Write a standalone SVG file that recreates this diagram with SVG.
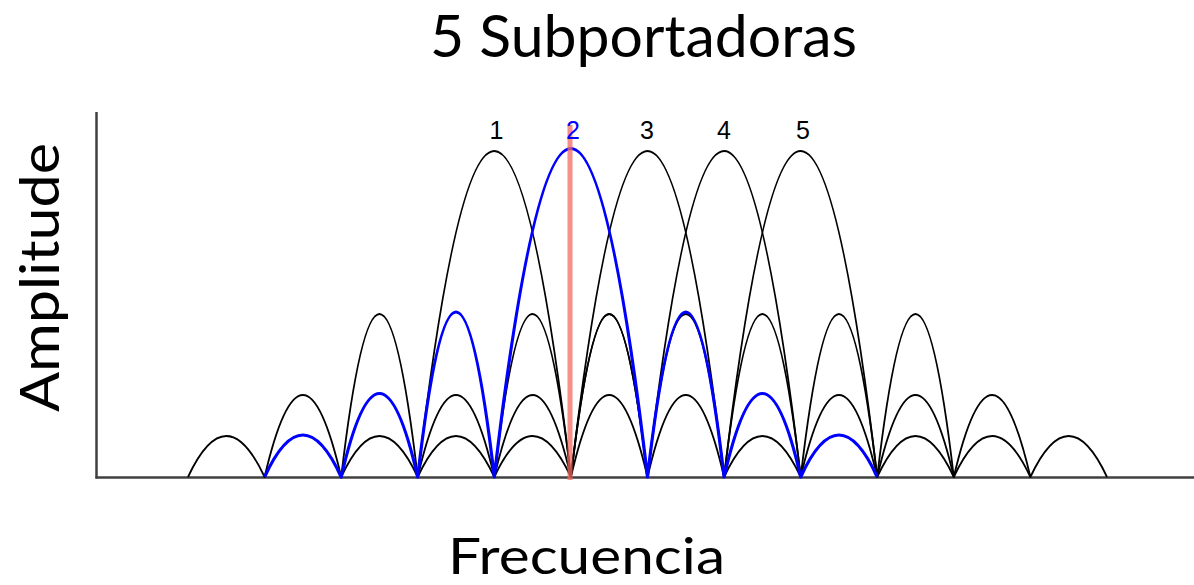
<svg xmlns="http://www.w3.org/2000/svg" width="1194" height="585" viewBox="0 0 1194 585">
<style>
.lbl{font-family:Lato,"Open Sans","Liberation Sans",sans-serif;fill:#000}
.num{font-family:"Liberation Sans","DejaVu Sans",sans-serif;font-size:25px;text-anchor:middle;fill:#000}
.sub{fill:none;stroke:#000;stroke-width:1.8;stroke-linejoin:round}
.blue{fill:none;stroke:#0000ff;stroke-width:3.2;stroke-linejoin:round}
.axis{stroke:#404040;stroke-width:2.5;fill:none}
</style>
<rect width="1194" height="585" fill="#fff"/>
<g id="title"><text class="lbl" x="643.5" y="57" font-size="58" text-anchor="middle" textLength="427" lengthAdjust="spacingAndGlyphs">5 Subportadoras</text></g>
<g id="xlabel"><text class="lbl" x="586.5" y="574" font-size="50" text-anchor="middle" textLength="277" lengthAdjust="spacingAndGlyphs">Frecuencia</text></g>
<g id="ylabel"><text class="lbl" transform="translate(59,277.5) rotate(-90)" x="0" y="0" font-size="54" text-anchor="middle" textLength="269" lengthAdjust="spacingAndGlyphs">Amplitude</text></g>
<g id="axes">
<line class="axis" x1="96.5" y1="112" x2="96.5" y2="478.5"/>
<line class="axis" x1="95.5" y1="477.5" x2="1194" y2="477.5"/>
</g>
<g id="connectors">
<path id="sub1" class="sub" d="M188,477 Q226.3,395 264.6,477 Q302.9,313 341.2,477 Q379.5,151 417.7,477 Q494.3,-175 570.9,477 Q609.2,151 647.5,477 Q685.8,313 724.1,477 Q762.4,395 800.7,477"/>
<path id="sub3" class="sub" d="M341.2,477 Q379.5,395 417.7,477 Q456,313 494.3,477 Q532.6,151 570.9,477 Q647.5,-175 724.1,477 Q762.4,151 800.7,477 Q839,313 877.2,477 Q915.5,395 953.8,477"/>
<path id="sub4" class="sub" d="M417.7,477 Q456,395 494.3,477 Q532.6,313 570.9,477 Q609.2,151 647.5,477 Q724.1,-175 800.7,477 Q839,151 877.2,477 Q915.5,313 953.8,477 Q992.1,395 1030.4,477"/>
<path id="sub5" class="sub" d="M494.3,477 Q532.6,395 570.9,477 Q609.2,313 647.5,477 Q685.8,151 724.1,477 Q800.7,-175 877.2,477 Q915.5,151 953.8,477 Q992.1,313 1030.4,477 Q1068.7,395 1107,477"/>
<path id="sub2" class="blue" d="M264.6,477 Q302.9,393 341.2,477 Q379.5,310 417.7,477 Q456,147 494.3,477 Q570.9,-180 647.5,477 Q685.8,147 724.1,477 Q762.4,310 800.7,477 Q839,393 877.2,477"/>
<line id="marker" x1="570" y1="125" x2="570" y2="480" stroke="#f26a60" stroke-opacity="0.75" stroke-width="5"/>
</g>
<g id="labels">
<text class="num" x="496.5" y="139">1</text>
<text class="num" x="573" y="139" style="fill:#0000ff">2</text>
<text class="num" x="647" y="139">3</text>
<text class="num" x="724" y="139">4</text>
<text class="num" x="803" y="139">5</text>
</g>
</svg>
